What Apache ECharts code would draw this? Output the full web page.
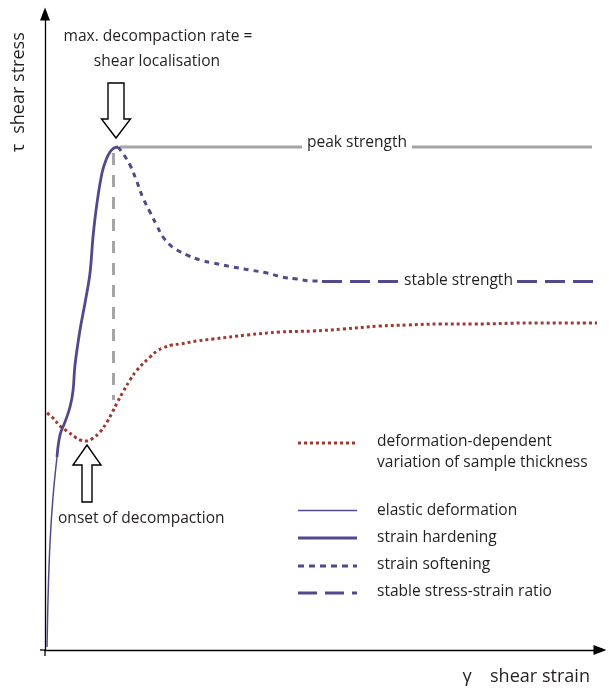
<!DOCTYPE html>
<html><head><meta charset="utf-8">
<script src="https://cdn.jsdelivr.net/npm/echarts@6/dist/echarts.min.js"></script>
<style>html,body{margin:0;padding:0;background:#fff}#c{width:609px;height:695px}</style>
</head><body><div id="c"></div>
<script>
// Schematic values in arbitrary units (strain 0-111, stress 0-127)
const elasticStrain = [0.4, 0.6, 1.0, 1.6, 2.4];
const elasticStress = [0.6, 10, 21.4, 30.6, 38.6];

const hardeningStrain = [2.4, 3, 4, 5, 5.6, 6, 7, 8, 9, 9.6, 10.4, 11.4, 12.2, 13, 13.8, 14.6];
const hardeningStress = [38.6, 43, 45.6, 48.6, 51.8, 57, 64, 69.4, 75.4, 82.6, 89.4, 95.4, 98, 99.6, 100.4, 100.6];

const softeningStrain = [14.6, 15.8, 17, 18.4, 19.6, 21, 22.4, 23.6, 25, 26.4, 28.6, 31, 33.6, 37.6, 41, 44.4, 47.4, 50.4, 53.6, 55.4];
const softeningStress = [100.6, 99, 97, 93.6, 90.4, 87.6, 84.8, 82.6, 81, 80, 78.9, 78, 77.4, 76.6, 76, 75.4, 74.6, 74.2, 73.8, 73.8];

const stableStress = 73.7;
const stableSegments = [[55.4, 71], [94.4, 110.4]];

const peakStress = 100.6;
const peakSegments = [[15, 51.4], [73.4, 109.4]];

const localisationStrain = 13.7;
const localisationStressRange = [99.4, 50];

const thicknessStrain = [0.4, 1.6, 3, 4.4, 6, 7, 8.4, 9.6, 11, 12.4, 13.4, 14.4, 15.6, 17, 18.4, 21, 22.4, 23.6, 25.4, 27, 30.4, 33.6, 40.4, 47, 53.6, 59.6, 67, 72.4, 79, 85.6, 97, 110.4];
const thicknessValue = [47.4, 46.4, 44.8, 43.8, 42.6, 42, 41.8, 42.4, 43.6, 45.6, 47.4, 49.4, 51.6, 54, 56, 58.6, 59.8, 60.4, 61, 61.2, 61.8, 62.2, 63, 63.6, 63.8, 64.2, 64.8, 65, 65.2, 65.2, 65.4, 65.4];

const legendLabels = ['deformation-dependent\nvariation of sample thickness', 'elastic deformation', 'strain hardening', 'strain softening', 'stable stress-strain ratio'];
const annotationTexts = ['max. decompaction rate =', 'shear localisation', 'onset of decompaction', 'peak strength', 'stable strength'];
const axisSymbols = ['τ', 'γ'];
const axisNames = ['shear stress', 'shear strain'];

const PURPLE = '#51498b', RED = '#a03a31', GRAY = '#a5a5a5', INK = '#231f20';
const FONT = '"Open Sans"';

function zip(a, b) { return a.map((v, i) => [v, b[i]]); }

// pick a font size so a reference string reaches the width seen in the picture
const mctx = document.createElement('canvas').getContext('2d');
function fitSize(text, width) {
  mctx.font = '100px ' + FONT;
  return 100 * width / mctx.measureText(text).width;
}
const BODY = fitSize(legendLabels[4], 175);
const TITLE = fitSize(axisNames[1], 100);

const chart = echarts.init(document.getElementById('c'), null, {renderer: 'canvas'});

const series = [];
series.push({type: 'line', name: 'thickness', data: zip(thicknessStrain, thicknessValue), smooth: 0.4, symbol: 'none',
  lineStyle: {color: RED, width: 3, type: [3, 3], cap: 'butt'}, z: 2});
series.push({type: 'line', name: 'localisation', data: [[localisationStrain, localisationStressRange[0]], [localisationStrain, localisationStressRange[1]]], symbol: 'none',
  lineStyle: {color: GRAY, width: 3, type: [12, 10], cap: 'butt'}, z: 1});
peakSegments.forEach(s => series.push({type: 'line', data: [[s[0], peakStress], [s[1], peakStress]], symbol: 'none',
  lineStyle: {color: GRAY, width: 3}, z: 1}));
series.push({type: 'line', name: 'elastic', data: zip(elasticStrain, elasticStress), smooth: 0.4, symbol: 'none',
  lineStyle: {color: PURPLE, width: 1.5}, z: 3});
series.push({type: 'line', name: 'hardening', data: zip(hardeningStrain, hardeningStress), smooth: 0.4, symbol: 'none',
  lineStyle: {color: PURPLE, width: 2.8}, z: 3});
series.push({type: 'line', name: 'softening', data: zip(softeningStrain, softeningStress), smooth: 0.4, symbol: 'none',
  lineStyle: {color: PURPLE, width: 3, type: [5, 5], cap: 'butt'}, z: 3});
stableSegments.forEach(s => series.push({type: 'line', data: [[s[0], stableStress], [s[1], stableStress]], symbol: 'none',
  lineStyle: {color: PURPLE, width: 3, type: [20, 8], cap: 'butt'}, z: 3}));

chart.setOption({
  animation: false,
  backgroundColor: '#fff',
  grid: {left: 45, right: 9, top: 14, bottom: 45},
  xAxis: {type: 'value', min: 0, max: 111, axisLabel: {show: false}, axisTick: {show: false}, splitLine: {show: false},
    axisLine: {lineStyle: {color: '#000', width: 1.3}, symbol: ['none', 'triangle'], symbolSize: [10, 13]}},
  yAxis: {type: 'value', min: 0, max: 127.2, axisLabel: {show: false}, axisTick: {show: false}, splitLine: {show: false},
    axisLine: {lineStyle: {color: '#000', width: 1.3}, symbol: ['none', 'triangle'], symbolSize: [10, 13]}},
  series: series
});

function px(x, y) { return chart.convertToPixel({gridIndex: 0}, [x, y]); }
const o = px(0, 0);
const g = [];
// axis overshoot at origin
g.push({type: 'line', shape: {x1: o[0] - 5, y1: o[1], x2: o[0], y2: o[1]}, style: {stroke: '#000', lineWidth: 1.3}});
g.push({type: 'line', shape: {x1: o[0], y1: o[1], x2: o[0], y2: o[1] + 6}, style: {stroke: '#000', lineWidth: 1.3}});

function txt(x, y, text, size, align, extra) {
  return Object.assign({type: 'text', x: x, y: y, style: {text: text, font: size.toFixed(2) + 'px ' + FONT, fill: INK, align: align || 'center', verticalAlign: 'middle'}}, extra || {});
}

// axis names
g.push(txt(19, 83, axisNames[0], TITLE, 'center', {rotation: Math.PI / 2}));
g.push(txt(19, 148, axisSymbols[0], TITLE, 'center', {rotation: Math.PI / 2}));
g.push(txt(467, 677, axisSymbols[1], TITLE, 'center'));
g.push(txt(540, 677, axisNames[1], TITLE, 'center'));

// annotations
g.push(txt(158, 37, annotationTexts[0], BODY));
g.push(txt(157, 62, annotationTexts[1], BODY));
g.push(txt(58, 519, annotationTexts[2], BODY, 'left'));
const pk = px((peakSegments[0][1] + peakSegments[1][0]) / 2, peakStress);
g.push(txt(pk[0], pk[1] - 4, annotationTexts[3], BODY));
const st = px((stableSegments[0][1] + stableSegments[1][0]) / 2, stableStress);
g.push(txt(st[0], st[1] - 1, annotationTexts[4], BODY));

// hollow arrows
function arrow(cx, top, base, tip, sh, hh) {
  return {type: 'polygon', shape: {points: [[cx - sh, top], [cx + sh, top], [cx + sh, base], [cx + hh, base], [cx, tip], [cx - hh, base], [cx - sh, base]]},
    style: {fill: '#fff', stroke: '#000', lineWidth: 1.4}, z: 10};
}
const peakPt = px(hardeningStrain[hardeningStrain.length - 1], peakStress);
g.push(arrow(peakPt[0] - 2, 83, 119, 138, 8, 14.5));
const minPt = px(8.4, 41.8);
g.push(arrow(minPt[0], 502, 465, 445, 5, 14));

// legend
const lx1 = 298, lx2 = 357, tx = 377;
const legendRows = [
  {y: 443, style: {stroke: RED, lineWidth: 3, lineDash: [3, 3]}, ty: 452},
  {y: 510.5, style: {stroke: PURPLE, lineWidth: 1.5}, ty: 511},
  {y: 538, style: {stroke: PURPLE, lineWidth: 3}, ty: 538},
  {y: 566, style: {stroke: PURPLE, lineWidth: 3, lineDash: [6, 5]}, ty: 565},
  {y: 593, style: {stroke: PURPLE, lineWidth: 3, lineDash: [19, 8]}, ty: 592}
];
legendRows.forEach((r, i) => {
  g.push({type: 'line', shape: {x1: lx1, y1: r.y, x2: lx2, y2: r.y}, style: r.style});
  const t = txt(tx, r.ty, legendLabels[i], BODY, 'left');
  t.style.lineHeight = 21;
  g.push(t);
});

chart.setOption({graphic: {elements: g}});
</script>
</body></html>
